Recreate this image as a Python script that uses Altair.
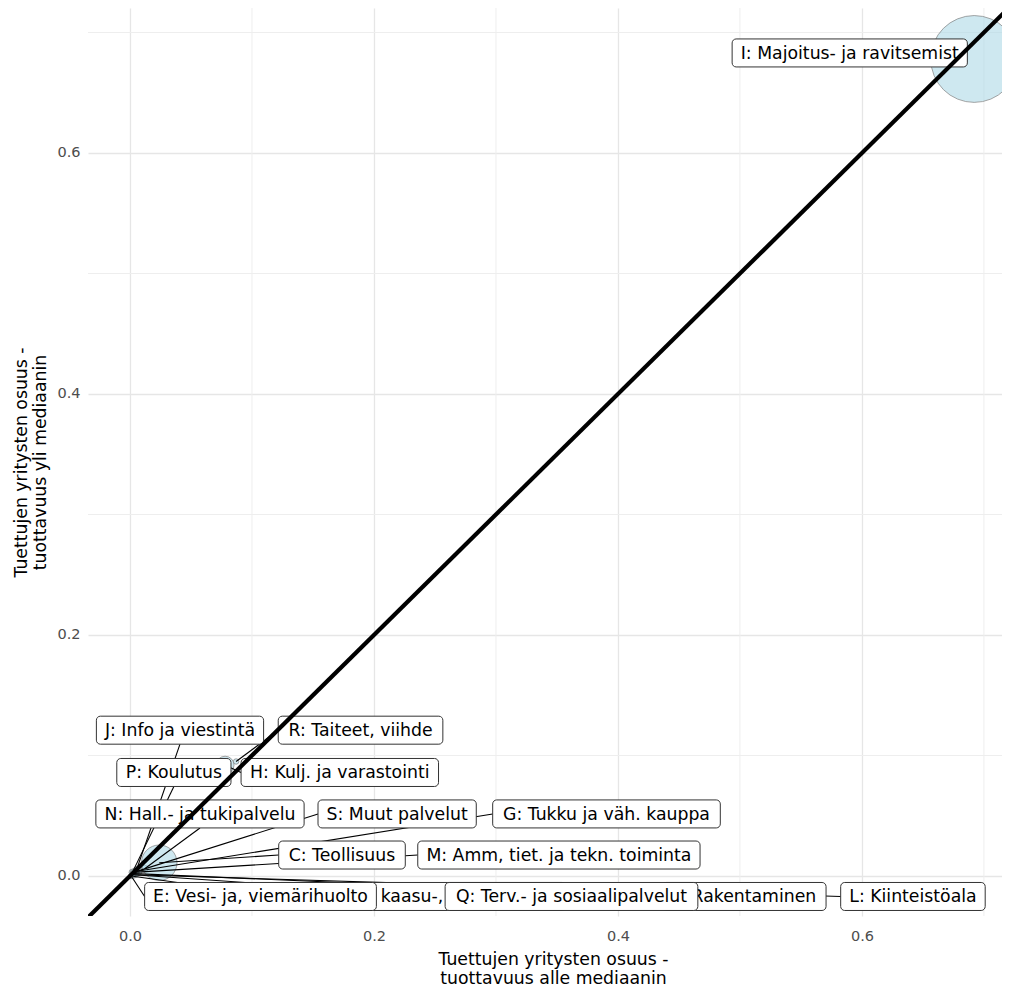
import altair as alt
import pandas as pd

# ---------------- data ----------------
codes = ["I", "J", "R", "P", "H", "N", "S", "G", "C", "M", "E", "D", "Q", "F", "L"]
labels = [
    "I: Majoitus- ja ravitsemist",
    "J: Info ja viestintä",
    "R: Taiteet, viihde",
    "P: Koulutus",
    "H: Kulj. ja varastointi",
    "N: Hall.- ja tukipalvelu",
    "S: Muut palvelut",
    "G: Tukku ja väh. kauppa",
    "C: Teollisuus",
    "M: Amm, tiet. ja tekn. toiminta",
    "E: Vesi- ja, viemärihuolto",
    "D: Sähkö-, kaasu-, lämpöhuolto",
    "Q: Terv.- ja sosiaalipalvelut",
    "F: Rakentaminen",
    "L: Kiinteistöala",
]
share_below = [0.692, 0.005, 0.087, 0.002, 0.078, 0.012, 0.003, 0.006, 0.024, 0.003, 0.001, 0.001, 0.003, 0.004, 0.002]
share_above = [0.678, 0.004, 0.095, 0.003, 0.092, 0.006, 0.003, 0.004, 0.011, 0.003, 0.000, 0.000, 0.001, 0.002, 0.001]
weight = [100, 0.7, 0.4, 0.6, 4.2, 0.7, 0.5, 1.2, 16.7, 0.6, 0.4, 0.3, 0.6, 0.9, 0.5]
label_x = [0.590, 0.041, 0.189, 0.036, 0.172, 0.0574, 0.219, 0.3906, 0.1738, 0.3516, 0.107, 0.239, 0.3619, 0.5033, 0.6418]
label_y = [0.683, 0.121, 0.121, 0.0859, 0.0859, 0.0515, 0.0515, 0.0515, 0.0174, 0.0174, -0.017, -0.017, -0.017, -0.017, -0.017]
behind = ["D", "F"]  # labels drawn underneath their neighbours

major_ticks = [0.0, 0.2, 0.4, 0.6]
minor_ticks = [0.1, 0.3, 0.5, 0.7]
diag = [-0.1, 0.8]

x_title = ["Tuettujen yritysten osuus -", " tuottavuus alle mediaanin"]
y_title = ["Tuettujen yritysten osuus -", "tuottavuus yli mediaanin"]

# ---------------- layout ----------------
W, H = 914, 908
XMIN, XMAX = -0.0344, 0.7148
YMIN, YMAX = -0.0332, 0.7203
PX = W / (XMAX - XMIN)
PY = H / (YMAX - YMIN)
FONT = "DejaVu Sans"
FS = 17.3
PAD = 8.5
HALF_H = 14
MIN_SEG = 12

# DejaVu Sans advance widths (units / 2048)
CW = {' ': 651, ':': 690, ',': 651, '.': 651, '-': 739,
      'A': 1401, 'C': 1430, 'D': 1577, 'E': 1294, 'F': 1178, 'G': 1587, 'H': 1540, 'I': 604,
      'J': 604, 'K': 1343, 'L': 1141, 'M': 1767, 'N': 1532, 'P': 1235, 'Q': 1612, 'R': 1423,
      'S': 1300, 'T': 1251,
      'a': 1255, 'c': 1126, 'd': 1300, 'e': 1260, 'f': 721, 'g': 1300, 'h': 1298, 'i': 569,
      'j': 569, 'k': 1186, 'l': 569, 'm': 1995, 'n': 1298, 'o': 1253, 'p': 1300, 'r': 842,
      's': 1067, 't': 803, 'u': 1298, 'v': 1212, 'w': 1675, 'y': 1212, 'ä': 1255, 'ö': 1253}


def text_w(s):
    return sum(CW.get(c, 1200) for c in s) / 2048 * FS


df = pd.DataFrame({"code": codes, "label": labels, "x": share_below, "y": share_above,
                   "w": weight, "lx": label_x, "ly": label_y})
half_w = df["label"].map(text_w) / 2 + PAD
df["x0"] = df["lx"] - half_w / PX
df["x1"] = df["lx"] + half_w / PX
df["y0"] = df["ly"] - HALF_H / PY
df["y1"] = df["ly"] + HALF_H / PY
df["grp"] = ["back" if c in behind else "front" for c in codes]

# segment start: nearest edge midpoint of the label box
sx, sy, show = [], [], []
for _, r in df.iterrows():
    cands = [(r.x0, r.ly), (r.x1, r.ly), (r.lx, r.y0), (r.lx, r.y1)]
    dist = lambda p: (((p[0] - r.x) * PX) ** 2 + ((p[1] - r.y) * PY) ** 2) ** 0.5
    best = min(cands, key=dist)
    sx.append(best[0])
    sy.append(best[1])
    show.append(dist(best) > MIN_SEG)
df["sx"] = sx
df["sy"] = sy
df["seg"] = show

xs = alt.Scale(domain=[XMIN, XMAX], nice=False, zero=False)
ys = alt.Scale(domain=[YMIN, YMAX], nice=False, zero=False)

x_axis = alt.Axis(title=x_title, values=major_ticks, format=".1f", labelPadding=13,
                  titleX=465, titleY=34, titleAlign="center", titleBaseline="top")
y_axis = alt.Axis(title=y_title, values=major_ticks, format=".1f", labelPadding=8,
                  titleX=-58, titleY=H / 2, titleAngle=-90,
                  titleAlign="center", titleBaseline="bottom")


def X(f):
    return alt.X(f, type="quantitative", scale=xs, axis=x_axis)


def Y(f):
    return alt.Y(f, type="quantitative", scale=ys, axis=y_axis)


base = alt.Chart(df)

minor_df = pd.DataFrame({"v": minor_ticks})
minor_x = alt.Chart(minor_df).mark_rule(color="#EEEEEE", strokeWidth=1).encode(x=X("v"))
minor_y = alt.Chart(minor_df).mark_rule(color="#EEEEEE", strokeWidth=1).encode(y=Y("v"))

bubbles = base.mark_circle(fill="#ADD8E6", fillOpacity=0.6, stroke="#7F7F7F", strokeWidth=0.7,
                           opacity=1, clip=True).encode(
    x=X("x"), y=Y("y"),
    size=alt.Size("w:Q", scale=alt.Scale(domain=[0, 100], range=[0, 7540], zero=True), legend=None),
)

segments = base.transform_filter(alt.datum.seg).mark_rule(
    color="#000000", strokeWidth=1.1, clip=True).encode(
    x=X("sx"), y=Y("sy"), x2="x:Q", y2="y:Q")


def label_layers(grp):
    sub = base.transform_filter(alt.datum.grp == grp)
    boxes = sub.mark_rect(fill="#FFFFFF", stroke="#333333", strokeWidth=1, cornerRadius=4).encode(
        x=X("x0"), x2="x1:Q", y=Y("y0"), y2="y1:Q")
    texts = sub.mark_text(font=FONT, fontSize=FS, color="#000000", align="center",
                          baseline="middle", dy=1).encode(
        x=X("lx"), y=Y("ly"), text="label:N")
    return [boxes, texts]


diag_df = pd.DataFrame({"d": diag})
diag_line = alt.Chart(diag_df).mark_line(color="#000000", strokeWidth=4.2, clip=True).encode(
    x=X("d"), y=Y("d"))

chart = alt.layer(
    minor_x, minor_y, bubbles, segments,
    *label_layers("back"), *label_layers("front"),
    diag_line,
).properties(
    width=W, height=H,
    autosize=alt.AutoSizeParams(type="none"),
    padding={"left": 80, "top": 0, "right": 0, "bottom": 72},
).configure_view(stroke=None).configure_axis(
    grid=True, gridColor="#E6E6E6", gridWidth=1.3, ticks=False, domain=False,
    labelFont=FONT, labelFontSize=14.5, labelColor="#4D4D4D",
    titleFont=FONT, titleFontSize=17.3, titleFontWeight="normal", titleColor="#000000",
    titleLineHeight=19,
)

chart.save("out.html", embed_options={"renderer": "svg", "actions": False})
